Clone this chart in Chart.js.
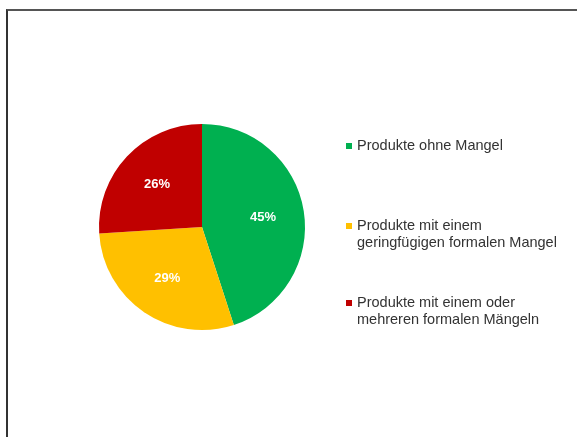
<!DOCTYPE html>
<html>
<head>
<meta charset="utf-8">
<script src="https://cdn.jsdelivr.net/npm/chart.js@4"></script>
<style>
  html, body { margin: 0; padding: 0; background: #fff; }
  #wrap { position: relative; width: 577px; height: 437px; overflow: hidden; }
  #frame { position: absolute; left: 6px; top: 9px; width: 600px; height: 460px;
           border-top: 2px solid #555; border-left: 2px solid #333; }
  canvas { position: absolute; left: 0; top: 0; }
</style>
</head>
<body>
<div id="wrap">
  <div id="frame"></div>
  <canvas id="c" width="577" height="437"></canvas>
</div>
<script>
// categories (legend lines) and values
const categories = [
  ['Produkte ohne Mangel'],
  ['Produkte mit einem', 'geringfügigen formalen Mangel'],
  ['Produkte mit einem oder', 'mehreren formalen Mängeln']
];
const values = [45, 29, 26];
const colors = ['#00B050', '#FFC000', '#C00000'];

// white percentage labels inside the slices
const sliceLabels = {
  id: 'sliceLabels',
  afterDatasetsDraw(chart) {
    const ctx = chart.ctx;
    const meta = chart.getDatasetMeta(0);
    ctx.save();
    ctx.font = 'bold 13px "Liberation Sans", Arial, sans-serif';
    ctx.fillStyle = '#fff';
    ctx.textAlign = 'center';
    ctx.textBaseline = 'middle';
    meta.data.forEach((arc, i) => {
      const p = arc.getProps(['x', 'y', 'startAngle', 'endAngle', 'outerRadius'], true);
      const mid = (p.startAngle + p.endAngle) / 2;
      const r = p.outerRadius * 0.6;
      ctx.fillText(values[i] + '%', p.x + Math.cos(mid) * r, p.y + Math.sin(mid) * r);
    });
    ctx.restore();
  }
};

// legend at the right, text wraps as in the original
const sideLegend = {
  id: 'sideLegend',
  afterDraw(chart) {
    const ctx = chart.ctx;
    const x = 346, tops = [146, 226, 303], lh = 17;
    ctx.save();
    ctx.font = '14.5px "Liberation Sans", Arial, sans-serif';
    ctx.textBaseline = 'middle';
    categories.forEach((lines, i) => {
      ctx.fillStyle = colors[i];
      ctx.fillRect(x, tops[i] - 3, 6, 6);
      ctx.fillStyle = '#333';
      lines.forEach((t, j) => ctx.fillText(t, x + 11, tops[i] + j * lh));
    });
    ctx.restore();
  }
};

new Chart(document.getElementById('c').getContext('2d'), {
  type: 'pie',
  data: {
    labels: categories.map(l => l.join(' ')),
    datasets: [{
      data: values,
      backgroundColor: colors,
      borderWidth: 0
    }]
  },
  options: {
    responsive: false,
    animation: false,
    layout: { padding: { left: 99, right: 272, top: 124, bottom: 107 } },
    plugins: {
      legend: { display: false },
      tooltip: { enabled: false }
    }
  },
  plugins: [sliceLabels, sideLegend]
});
</script>
</body>
</html>
